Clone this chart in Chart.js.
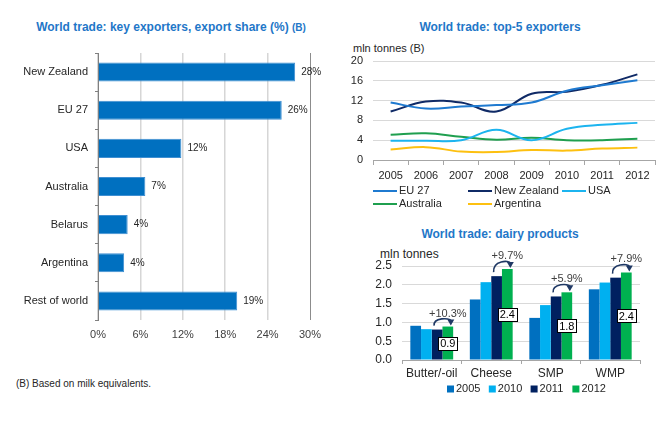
<!DOCTYPE html>
<html><head><meta charset="utf-8">
<script src="https://cdn.jsdelivr.net/npm/chart.js@4.4.1/dist/chart.umd.min.js"></script>
<style>
body{margin:0;background:#fff;width:665px;height:421px;overflow:hidden;position:relative;font-family:"Liberation Sans",Arial,sans-serif;}
canvas{position:absolute;}
.t{position:absolute;white-space:nowrap;}
.title{font-weight:bold;font-size:12px;color:#1f77c8;text-align:center;line-height:14px;}
</style></head><body>
<div class="t title" style="left:0px;width:342px;top:20px;">World trade: key exporters, export share (%) <span style="font-size:10px">(B)</span></div>
<div class="t title" style="left:400px;width:200px;top:20px;">World trade: top-5 exporters</div>
<div class="t title" style="left:400px;width:200px;top:227px;">World trade: dairy products</div>
<div class="t" style="left:353px;top:42px;font-size:11px;color:#262626;">mln tonnes (B)</div>
<div class="t" style="left:380px;top:247px;font-size:12px;color:#262626;">mln tonnes</div>
<div class="t" style="left:16px;top:378px;font-size:10px;color:#262626;">(B) Based on milk equivalents.</div>
<canvas id="c1" width="340" height="360" style="left:0;top:0;"></canvas>
<canvas id="c2" width="325" height="180" style="left:340px;top:40px;"></canvas>
<canvas id="c3" width="325" height="165" style="left:340px;top:240px;"></canvas>
<script>
// ---- data: export share ----
const exporters = ['New Zealand','EU 27','USA','Australia','Belarus','Argentina','Rest of world'];
const exportShare = [27.9, 26.0, 11.8, 6.7, 4.2, 3.7, 19.7];
const exportShareLabels = ['28%','26%','12%','7%','4%','4%','19%'];

// ---- data: top-5 exporters (mln tonnes) ----
const years = ['2005','2006','2007','2008','2009','2010','2011','2012'];
const eu27 = [11.6, 10.4, 10.8, 11.1, 11.6, 14.0, 15.1, 16.1];
const newZealand = [9.8, 11.8, 11.6, 9.8, 13.4, 13.8, 15.2, 17.3];
const usa = [3.9, 3.9, 4.0, 6.1, 4.0, 6.3, 7.1, 7.5];
const australia = [5.1, 5.4, 4.7, 4.1, 4.5, 4.0, 4.0, 4.3];
const argentina = [2.1, 2.6, 1.7, 1.6, 2.0, 1.9, 2.3, 2.5];

// ---- data: dairy products (mln tonnes) ----
const products = ['Butter/-oil','Cheese','SMP','WMP'];
const dairy2005 = [0.91, 1.61, 1.12, 1.88];
const dairy2010 = [0.82, 2.07, 1.46, 2.06];
const dairy2011 = [0.81, 2.23, 1.69, 2.19];
const dairy2012 = [0.89, 2.42, 1.80, 2.33];
const growthLabels = ['+10.3%','+9.7%','+5.9%','+7.9%'];
const boxLabels = ['0.9','2.4','1.8','2.4'];

const FF = '"Liberation Sans", Arial, sans-serif';
Chart.defaults.font.family = FF;
Chart.defaults.animation = false;

// ---------- chart 1 ----------
const shareLabelPlugin = {
  id: 'shareLabels',
  afterDatasetsDraw(chart) {
    const ctx = chart.ctx, meta = chart.getDatasetMeta(0);
    ctx.save();
    ctx.font = '10px ' + FF; ctx.fillStyle = '#262626';
    ctx.textAlign = 'left'; ctx.textBaseline = 'middle';
    meta.data.forEach((bar, i) => ctx.fillText(exportShareLabels[i], bar.x + 6, bar.y));
    ctx.restore();
  }
};
new Chart(document.getElementById('c1'), {
  type: 'bar',
  data: { labels: exporters, datasets: [{ data: exportShare, backgroundColor: '#0070c0', borderColor: '#3f8fd2', borderWidth: 1, barPercentage: 0.5, categoryPercentage: 1 }] },
  options: {
    indexAxis: 'y', responsive: false, devicePixelRatio: 1,
    layout: { padding: { top: 53, right: 30, left: 0, bottom: 0 } },
    plugins: { legend: { display: false }, tooltip: { enabled: false } },
    scales: {
      x: { min: 0, max: 30,
        ticks: { stepSize: 6, callback: v => v + '%', font: { size: 11 }, color: '#404040', padding: 8 },
        grid: { drawTicks: false, color: c => (c.tick && c.tick.value === 30) ? '#8c8c8c' : '#d6d6d6', lineWidth: c => (c.tick && c.tick.value === 30) ? 1 : 1.5 },
        border: { display: false },
        afterFit: s => { s.height = 40; } },
      y: { ticks: { font: { size: 11 }, color: '#262626', padding: 7 },
        grid: { drawOnChartArea: false, offset: true, tickLength: 3, color: '#808080' },
        border: { display: true, color: '#808080' },
        afterFit: s => { s.width = 98; } }
    }
  },
  plugins: [shareLabelPlugin]
});

// ---------- chart 2 ----------
const lineLegendPlugin = {
  id: 'lineLegend',
  afterDraw(chart) {
    const ctx = chart.ctx;
    const pos = [[33,151],[128,151],[222,151],[33,164],[128,164]];
    ctx.save();
    ctx.font = '11px ' + FF; ctx.textAlign = 'left'; ctx.textBaseline = 'middle';
    chart.data.datasets.forEach((ds, i) => {
      const [x, y] = pos[i];
      ctx.strokeStyle = ds.borderColor; ctx.lineWidth = 2;
      ctx.beginPath(); ctx.moveTo(x, y); ctx.lineTo(x + 24, y); ctx.stroke();
      ctx.fillStyle = '#262626'; ctx.fillText(ds.label, x + 26, y);
    });
    ctx.restore();
  }
};
const lineDs = (label, data, color) => ({ label, data, borderColor: color, backgroundColor: color, borderWidth: 2, pointRadius: 0, tension: 0.4, fill: false });
new Chart(document.getElementById('c2'), {
  type: 'line',
  data: { labels: years, datasets: [
    lineDs('EU 27', eu27, '#1f7ad0'),
    lineDs('New Zealand', newZealand, '#0f2a66'),
    lineDs('USA', usa, '#1cb4ef'),
    lineDs('Australia', australia, '#1f9f4f'),
    lineDs('Argentina', argentina, '#fdc010')
  ] },
  options: {
    responsive: false, devicePixelRatio: 1,
    layout: { padding: { top: 21, right: 10, left: 0, bottom: 0 } },
    plugins: { legend: { display: false }, tooltip: { enabled: false } },
    scales: {
      x: { offset: true,
        ticks: { font: { size: 11 }, color: '#262626', padding: 4 },
        grid: { drawOnChartArea: false, offset: true, tickLength: 5, color: '#a6a6a6' },
        border: { display: true, color: '#a6a6a6' },
        afterFit: s => { s.height = 60; } },
      y: { min: 0, max: 20,
        ticks: { stepSize: 4, font: { size: 11 }, color: '#262626', padding: 10 },
        grid: { drawTicks: false, color: '#d9d9d9' },
        border: { display: false },
        afterFit: s => { s.width = 33; } }
    }
  },
  plugins: [lineLegendPlugin]
});

// ---------- chart 3 ----------
const boxLegendPlugin = {
  id: 'boxLegend',
  afterDraw(chart) {
    const ctx = chart.ctx;
    ctx.save();
    ctx.font = '11px ' + FF; ctx.textAlign = 'left'; ctx.textBaseline = 'middle';
    chart.data.datasets.forEach((ds, i) => {
      const x = 107 + i * 41.8, y = 149;
      ctx.fillStyle = ds.backgroundColor; ctx.fillRect(x, y - 3.5, 7, 7);
      ctx.fillStyle = '#262626'; ctx.fillText(ds.label, x + 9, y);
    });
    ctx.restore();
  }
};
const dairyNotePlugin = {
  id: 'dairyNotes',
  afterDatasetsDraw(chart) {
    const ctx = chart.ctx, m11 = chart.getDatasetMeta(2), m12 = chart.getDatasetMeta(3);
    ctx.save();
    m12.data.forEach((b2, i) => {
      const b1 = m11.data[i];
      const xs = b1.x - 3, ys = b1.y - 4;
      const xe = b2.x + 3, ye = b2.y - 1;
      const top = Math.min(b1.y, b2.y) - 9;
      ctx.strokeStyle = '#1f3864'; ctx.lineWidth = 1.6;
      ctx.beginPath(); ctx.moveTo(xs, ys);
      ctx.bezierCurveTo(xs - 1, top, xe - 1, top, xe, ye - 5);
      ctx.stroke();
      ctx.fillStyle = '#1f3864';
      ctx.beginPath(); ctx.moveTo(xe - 3.5, ye - 6); ctx.lineTo(xe + 3.5, ye - 6); ctx.lineTo(xe, ye); ctx.closePath(); ctx.fill();
      ctx.font = '11px ' + FF; ctx.textAlign = 'center'; ctx.textBaseline = 'middle';
      ctx.fillStyle = '#404040';
      ctx.fillText(growthLabels[i], b2.x, b2.y - 13);
      const cy = (b2.y + b2.base) / 2, w = 19, h = 13;
      const bx = Math.round(b2.x - w / 2) + 0.5, by = Math.round(cy - h / 2) + 0.5;
      ctx.fillStyle = '#fff'; ctx.fillRect(bx, by, w, h);
      ctx.strokeStyle = '#000'; ctx.lineWidth = 1; ctx.strokeRect(bx, by, w, h);
      ctx.fillStyle = '#000'; ctx.fillText(boxLabels[i], b2.x, cy + 1);
    });
    ctx.restore();
  }
};
const barDs = (label, data, color) => ({ label, data, backgroundColor: color, borderWidth: 0, barPercentage: 1, categoryPercentage: 0.72 });
new Chart(document.getElementById('c3'), {
  type: 'bar',
  data: { labels: products, datasets: [
    barDs('2005', dairy2005, '#0070c0'),
    barDs('2010', dairy2010, '#00b0f0'),
    barDs('2011', dairy2011, '#002060'),
    barDs('2012', dairy2012, '#00b050')
  ] },
  options: {
    responsive: false, devicePixelRatio: 1,
    layout: { padding: { top: 26, right: 25, left: 0, bottom: 0 } },
    plugins: { legend: { display: false }, tooltip: { enabled: false } },
    scales: {
      x: { ticks: { font: { size: 12 }, color: '#262626', padding: 2 },
        grid: { drawOnChartArea: false, offset: true, tickLength: 4, color: '#a6a6a6' },
        border: { display: true, color: '#a6a6a6' },
        afterFit: s => { s.height = 45; } },
      y: { min: 0, max: 2.5,
        ticks: { stepSize: 0.5, callback: v => v.toFixed(1), font: { size: 12 }, color: '#262626', padding: 10 },
        grid: { drawTicks: false, color: '#d9d9d9' },
        border: { display: false },
        afterFit: s => { s.width = 62; } }
    }
  },
  plugins: [dairyNotePlugin, boxLegendPlugin]
});
</script>
</body></html>
